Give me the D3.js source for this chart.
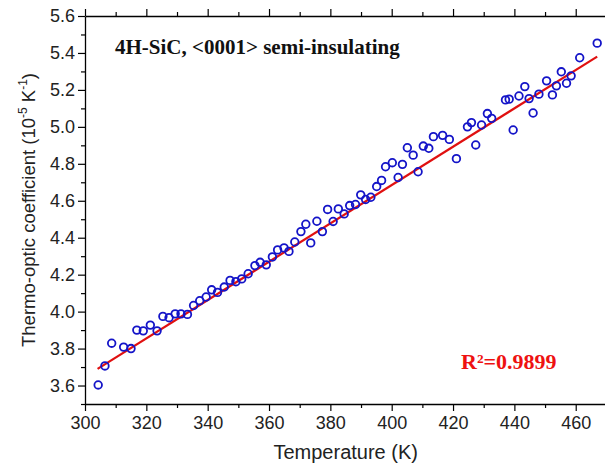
<!DOCTYPE html>
<html>
<head>
<meta charset="utf-8">
<script src="https://cdn.jsdelivr.net/npm/d3@7"></script>
<style>
  html, body { margin: 0; padding: 0; background: #fff; }
  svg { display: block; }
</style>
</head>
<body>
<div id="chart"></div>
<script>
// Measured points: temperature (K) and thermo-optic coefficient (1e-5 / K)
const temperature = [
  304.3, 306.5, 308.7, 312.6, 315.0, 316.9, 319.0, 321.3, 323.5, 325.4,
  327.4, 329.4, 331.3, 333.4, 335.4, 337.4, 339.5, 341.3, 343.2, 345.4,
  347.3, 349.2, 351.1, 353.2, 355.4, 357.1, 359.1, 361.1, 362.8, 364.9,
  366.5, 368.4, 370.4, 372.0, 373.6, 375.6, 377.4, 379.1, 380.9, 382.6,
  384.5, 386.3, 388.2, 389.9, 391.5, 393.2, 395.1, 396.7, 398.0, 400.2,
  402.1, 403.5, 405.1, 407.0, 408.6, 410.3, 412.1, 413.6, 416.6, 418.8,
  421.1, 424.7, 426.0, 427.4, 429.3, 431.2, 432.6, 437.1, 438.3, 439.6,
  441.5, 443.4, 444.8, 446.1, 448.0, 450.5, 452.4, 453.7, 455.3, 457.0,
  458.5, 461.3, 467.0
];
const tocValues = [
  3.603, 3.706, 3.829, 3.808, 3.800, 3.900, 3.896, 3.927, 3.896, 3.974,
  3.967, 3.988, 3.988, 3.985, 4.033, 4.059, 4.079, 4.118, 4.104, 4.133,
  4.169, 4.162, 4.177, 4.205, 4.249, 4.267, 4.253, 4.296, 4.334, 4.345,
  4.326, 4.377, 4.433, 4.473, 4.372, 4.489, 4.433, 4.553, 4.488, 4.556,
  4.529, 4.574, 4.580, 4.632, 4.607, 4.619, 4.677, 4.710, 4.784, 4.806,
  4.726, 4.797, 4.887, 4.847, 4.757, 4.896, 4.884, 4.947, 4.954, 4.932,
  4.828, 5.000, 5.023, 4.902, 5.010, 5.072, 5.046, 5.146, 5.150, 4.983,
  5.167, 5.218, 5.153, 5.075, 5.177, 5.249, 5.173, 5.222, 5.298, 5.236,
  5.276, 5.374, 5.453
];
// Linear fit end points
const fitT = [304.1, 467.0];
const fitV = [3.69, 5.38];

const xTicks = [300, 320, 340, 360, 380, 400, 420, 440, 460];
const yTicks = [3.6, 3.8, 4.0, 4.2, 4.4, 4.6, 4.8, 5.0, 5.2, 5.4, 5.6];

const width = 605, height = 466;
const plotLeft = 85, plotTop = 16, plotBottom = 404;

const svg = d3.select("#chart").append("svg")
  .attr("width", width)
  .attr("height", height);

const x = d3.scaleLinear().domain([300, 470]).range([plotLeft, plotLeft + 170 * 3.067]);
const y = d3.scaleLinear().domain([3.5, 5.6]).range([plotBottom, plotTop]);

// Axes: major ticks plus minor ticks between them
const minorX = d3.range(310, 470, 20);
const minorY = d3.range(3.5, 5.6, 0.2).map(v => +v.toFixed(1));

function styleAxis(g) {
  g.selectAll("path.domain").attr("stroke", "#000").attr("stroke-width", 1.3);
  g.selectAll(".tick line").attr("stroke", "#000").attr("stroke-width", 1.2);
  g.selectAll(".tick text")
    .attr("font-family", "Arial, 'Liberation Sans', sans-serif")
    .attr("font-size", 18)
    .attr("fill", "#222");
}

svg.append("g")
  .attr("transform", `translate(0,${plotBottom})`)
  .call(d3.axisBottom(x).tickValues(xTicks).tickSize(7).tickPadding(5).tickSizeOuter(0))
  .call(styleAxis);
svg.append("g")
  .attr("transform", `translate(0,${plotBottom})`)
  .call(d3.axisBottom(x).tickValues(minorX).tickSize(4).tickFormat("").tickSizeOuter(0))
  .call(styleAxis)
  .select("path.domain").remove();

svg.append("g")
  .attr("transform", `translate(0,${plotTop})`)
  .call(d3.axisTop(x).tickValues(xTicks).tickSize(7).tickFormat("").tickSizeOuter(0))
  .call(styleAxis);
svg.append("g")
  .attr("transform", `translate(0,${plotTop})`)
  .call(d3.axisTop(x).tickValues(minorX).tickSize(4).tickFormat("").tickSizeOuter(0))
  .call(styleAxis)
  .select("path.domain").remove();

svg.append("g")
  .attr("transform", `translate(${plotLeft},0)`)
  .call(d3.axisLeft(y).tickValues(yTicks).tickSize(7).tickPadding(3)
    .tickFormat(d3.format(".1f")).tickSizeOuter(0))
  .call(styleAxis);
svg.append("g")
  .attr("transform", `translate(${plotLeft},0)`)
  .call(d3.axisLeft(y).tickValues(minorY).tickSize(4).tickFormat("").tickSizeOuter(0))
  .call(styleAxis)
  .select("path.domain").remove();

// Axis titles
svg.append("text")
  .attr("x", (x(300) + x(470)) / 2)
  .attr("y", 459)
  .attr("text-anchor", "middle")
  .attr("font-family", "Arial, 'Liberation Sans', sans-serif")
  .attr("font-size", 20)
  .attr("fill", "#222")
  .text("Temperature (K)");

const yTitle = svg.append("text")
  .attr("transform", `translate(35,${(y(3.5) + y(5.6)) / 2}) rotate(-90)`)
  .attr("text-anchor", "middle")
  .attr("font-family", "Arial, 'Liberation Sans', sans-serif")
  .attr("font-size", 18.5)
  .attr("fill", "#222");
yTitle.append("tspan").text("Thermo-optic coefficient (10");
yTitle.append("tspan").attr("dy", -8).attr("font-size", 12).text("-5");
yTitle.append("tspan").attr("dy", 8).text(" K");
yTitle.append("tspan").attr("dy", -8).attr("font-size", 12).text("-1");
yTitle.append("tspan").attr("dy", 8).text(")");

// Fit line
svg.append("line")
  .attr("x1", x(fitT[0])).attr("y1", y(fitV[0]))
  .attr("x2", x(fitT[1])).attr("y2", y(fitV[1]))
  .attr("stroke", "#e01010")
  .attr("stroke-width", 2.2);

// Data points
svg.append("g")
  .selectAll("circle")
  .data(temperature.map((t, i) => ({ t, v: tocValues[i] })))
  .join("circle")
  .attr("cx", d => x(d.t))
  .attr("cy", d => y(d.v))
  .attr("r", 3.8)
  .attr("fill", "none")
  .attr("stroke", "#1414c8")
  .attr("stroke-width", 1.8);

// Annotations
svg.append("text")
  .attr("x", 115)
  .attr("y", 54)
  .attr("font-family", "'Liberation Serif', 'Times New Roman', serif")
  .attr("font-weight", "bold")
  .attr("font-size", 21)
  .attr("fill", "#111")
  .text("4H-SiC, <0001> semi-insulating");

svg.append("text")
  .attr("x", 461)
  .attr("y", 369)
  .attr("font-family", "'Liberation Serif', 'Times New Roman', serif")
  .attr("font-weight", "bold")
  .attr("font-size", 22)
  .attr("fill", "#ee1111")
  .text("R\u00B2=0.9899");
</script>
</body>
</html>
